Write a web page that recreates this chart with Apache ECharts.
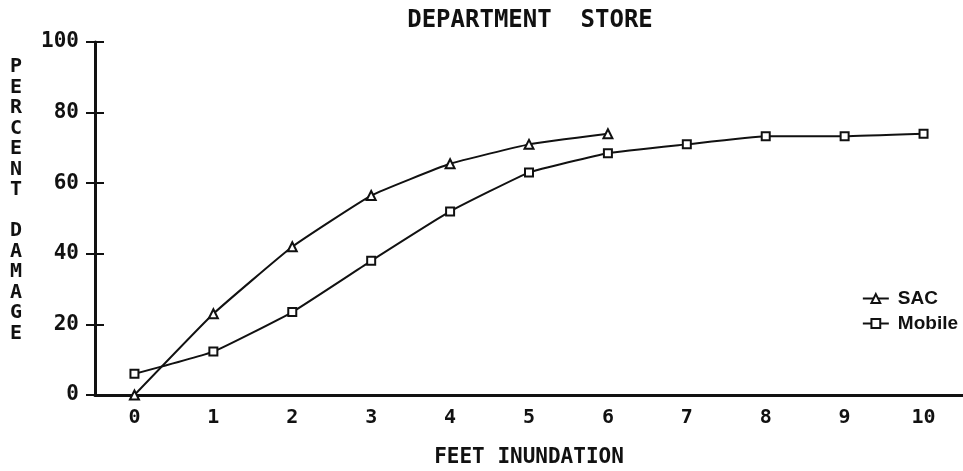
<!DOCTYPE html>
<html>
<head>
<meta charset="utf-8">
<style>
	html, body { margin: 0; padding: 0; background: #fff; }
	#chart { width: 963px; height: 471px; }
</style>
<script src="https://cdn.jsdelivr.net/npm/echarts@6/dist/echarts.min.js"></script>
</head>
<body>
<div id="chart"></div>
<script>
	// feet of inundation
	var feet = ['0', '1', '2', '3', '4', '5', '6', '7', '8', '9', '10']
	// percent damage
	var sac = [0, 23, 42, 56.5, 65.5, 71, 74]
	var mobile = [6, 12.3, 23.5, 38, 52, 63, 68.5, 71, 73.3, 73.3, 74]

	var blocky = '"DejaVu Sans Mono", monospace'
	var ink = '#111'
	var chart = echarts.init(document.getElementById('chart'))
	var option = {
		animation: false,
		backgroundColor: '#fff',
		title: {
			text: 'DEPARTMENT  STORE',
			left: 525,
			textAlign: 'center',
			top: 4,
			textStyle: { fontFamily: blocky, fontWeight: 'bold', fontSize: 24, color: ink }
		},
		// stacked y axis title
		graphic: [{
			type: 'text',
			left: 10,
			top: 57,
			style: {
				text: 'PERCENT DAMAGE'.split('').join('\n'),
				fontFamily: blocky,
				fontWeight: 'bold',
				fontSize: 20,
				lineHeight: 20.5,
				fill: ink
			}
		}],
		legend: {
			orient: 'vertical',
			right: 0,
			top: 284,
			itemGap: 6,
			itemWidth: 26,
			itemHeight: 11,
			textStyle: { fontFamily: '"Liberation Sans", Arial', fontWeight: 'bold', fontSize: 19, color: ink, padding: [0, 0, 0, 4] },
			data: ['SAC', 'Mobile']
		},
		grid: { left: 95, right: 0, top: 42, bottom: 76, containLabel: false, outerBoundsMode: 'none' },
		xAxis: {
			type: 'category',
			data: feet,
			boundaryGap: true,
			name: 'FEET INUNDATION',
			nameLocation: 'middle',
			nameGap: 52,
			nameTextStyle: { fontFamily: blocky, fontWeight: 'bold', fontSize: 21, color: ink },
			axisLine: { lineStyle: { color: ink, width: 3 } },
			axisTick: { alignWithLabel: true, inside: true, length: 9, lineStyle: { color: ink, width: 2 } },
			axisLabel: { fontFamily: blocky, fontWeight: 'bold', fontSize: 20, color: ink, margin: 13 },
			splitLine: { show: false }
		},
		yAxis: [
			{
				type: 'value',
				min: 0,
				max: 100,
				interval: 20,
				axisLine: { show: true, lineStyle: { color: ink, width: 3 } },
				axisTick: { show: true, length: 9, lineStyle: { color: ink, width: 2 } },
				axisLabel: { fontFamily: blocky, fontWeight: 'bold', fontSize: 21, color: ink, margin: 16 },
				splitLine: { show: false }
			},
			{
				// inner half of the y ticks
				type: 'value',
				position: 'left',
				min: 0,
				max: 100,
				interval: 20,
				axisLine: { show: false },
				axisTick: { show: true, inside: true, length: 9, lineStyle: { color: ink, width: 2 } },
				axisLabel: { show: false },
				splitLine: { show: false }
			}
		],
		series: [
			{
				name: 'SAC',
				type: 'line',
				data: sac,
				smooth: 0.12,
				symbol: 'triangle',
				symbolSize: 9,
				lineStyle: { color: ink, width: 2 },
				itemStyle: { color: '#fff', borderColor: ink, borderWidth: 2 }
			},
			{
				name: 'Mobile',
				type: 'line',
				data: mobile,
				smooth: 0.12,
				symbol: 'rect',
				symbolSize: 8,
				lineStyle: { color: ink, width: 2 },
				itemStyle: { color: '#fff', borderColor: ink, borderWidth: 2 }
			}
		]
	}
	chart.setOption(option)
</script>
</body>
</html>
